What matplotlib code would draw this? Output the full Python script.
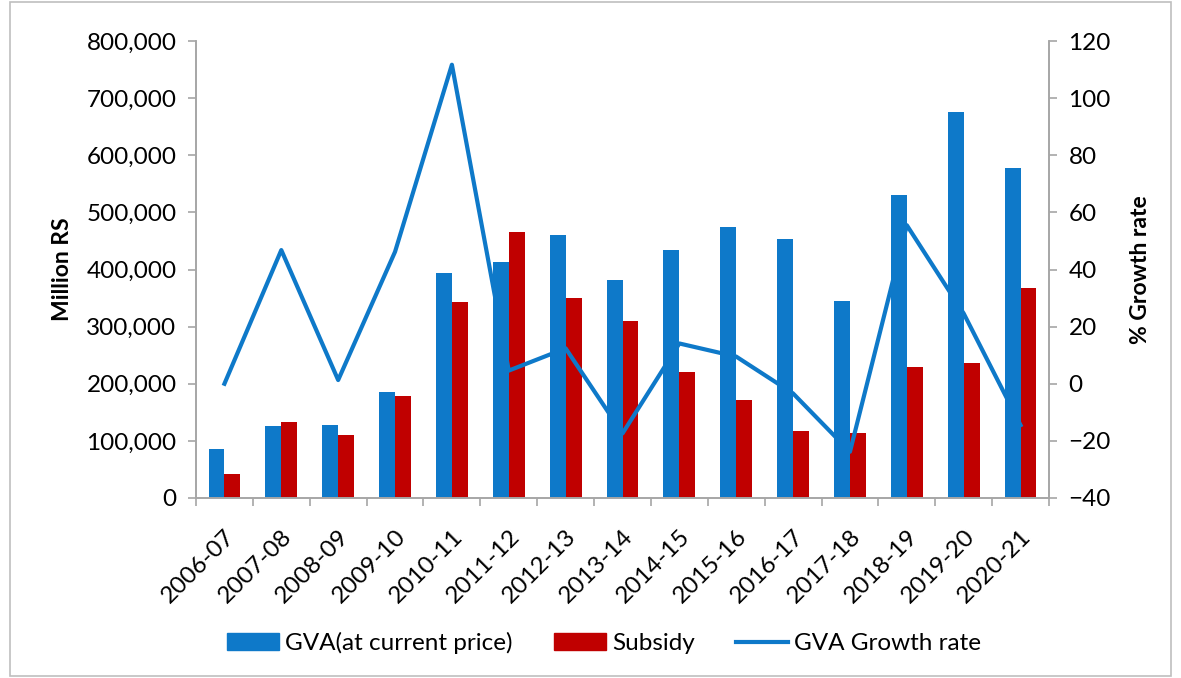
import numpy as np
import matplotlib.pyplot as plt
from matplotlib.patches import Rectangle, Patch
from matplotlib.lines import Line2D

plt.rcParams['font.family'] = ['Lato', 'DejaVu Sans']

years = ["2006-07", "2007-08", "2008-09", "2009-10", "2010-11", "2011-12", "2012-13",
         "2013-14", "2014-15", "2015-16", "2016-17", "2017-18", "2018-19", "2019-20", "2020-21"]
gva = [85300, 125600, 127300, 186200, 394600, 412700, 460000,
       382300, 434900, 473600, 452600, 344700, 529600, 675900, 577900]
subsidy = [42000, 132600, 110900, 179200, 343300, 465300, 349700,
           310000, 221000, 171500, 117200, 114300, 229700, 236700, 366900]
growth = [0.0, 46.8, 1.3, 46.2, 111.7, 4.6, 12.4,
          -17.4, 14.1, 9.5, -3.4, -23.8, 55.5, 24.6, -14.5]

blue = "#0E79C9"
red = "#C00000"
grey = "#A6A6A6"

fig = plt.figure(figsize=(11.81, 6.78), dpi=100)
ax = fig.add_axes([196/1181, 1 - 498/678, (1049-196)/1181, (498-41)/678])
ax2 = ax.twinx()

x = np.arange(len(years))
w = 0.28
ax.bar(x - w/2, gva, w, color=blue, zorder=2)
ax.bar(x + w/2, subsidy, w, color=red, zorder=2)
ax2.plot(x, growth, color=blue, lw=3, zorder=3)

ax.set_xlim(-0.5, len(years) - 0.5)
ax.set_ylim(0, 800000)
ax2.set_ylim(-40, 120)
ax.set_yticks(np.arange(0, 800001, 100000))
ax.set_yticklabels([f"{v:,}" for v in range(0, 800001, 100000)])
ax2.set_yticks(np.arange(-40, 121, 20))

ax.set_xticks(x)
ax.set_xticklabels(years, rotation=45, ha='right', rotation_mode='anchor')
ax.set_xticks(np.arange(-0.5, len(years), 1), minor=True)
ax.tick_params(axis='x', which='major', length=0, labelsize=17.5, pad=20)
ax.tick_params(axis='x', which='minor', length=6, color=grey, width=1.2)
ax.tick_params(axis='y', length=6, color=grey, width=1.2, labelsize=17.5, pad=8)
ax2.tick_params(axis='y', length=6, color=grey, width=1.2, labelsize=17.5, pad=8)

for a in (ax, ax2):
    a.spines['top'].set_visible(False)
    for s in ('left', 'right', 'bottom'):
        a.spines[s].set_color(grey)
        a.spines[s].set_linewidth(1.2)

ax.set_ylabel("Million RS", fontsize=16.5, fontweight='bold', labelpad=10)
ax2.set_ylabel("% Growth rate", fontsize=16.5, fontweight='bold', labelpad=14)

handles = [Patch(color=blue, label="GVA(at current price)"),
           Patch(color=red, label="Subsidy"),
           Line2D([], [], color=blue, lw=3, label="GVA Growth rate")]
fig.legend(handles=handles, loc='center', bbox_to_anchor=(604/1181, 1 - 643/678), ncol=3,
           frameon=False, fontsize=17.5, handlelength=2.15, handleheight=0.65,
           columnspacing=1.7, handletextpad=0.25)

fig.patches.append(Rectangle((10/1181, 2/678), 1 - 20/1181, 1 - 4/678, transform=fig.transFigure,
                             fill=False, edgecolor="#BFBFBF", lw=1.2))

fig.savefig("out.png", dpi=100)
